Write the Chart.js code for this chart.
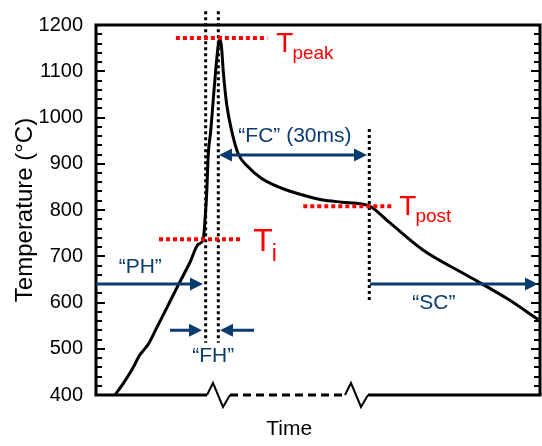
<!DOCTYPE html>
<html><head><meta charset="utf-8">
<script src="https://cdn.jsdelivr.net/npm/chart.js@4.4.1/dist/chart.umd.min.js"></script>
<style>html,body{margin:0;padding:0;background:#fff}canvas{display:block}</style>
</head><body>
<canvas id="c" width="542" height="446"></canvas>
<script>
// ---- data (time in arbitrary units along a broken axis, temperature in °C)
const timeValues = [4.28, 6.15, 8.40, 9.75, 10.65, 11.78, 13.29, 15.92, 18.54, 21.17,
  23.04, 24.17, 24.55, 24.93, 25.29, 25.83, 26.42, 27.03, 27.55, 27.77,
  28.04, 28.31, 28.67, 29.44, 30.56, 32.05, 34.30, 37.32, 41.82, 46.33,
  50.83, 55.34, 59.84, 61.71, 66.22, 73.72, 83.49, 92.50, 99.62];
const temperatures = [400, 425, 460, 485, 496, 510, 538, 588, 638, 687,
  726, 737, 779, 836, 921, 970, 1040, 1110, 1158, 1170,
  1166, 1148, 1099, 1028, 971, 921, 893, 868, 847, 833,
  822, 817, 813, 808, 772, 713, 659, 609, 563];
const temperatureTicks = [400, 500, 600, 700, 800, 900, 1000, 1100, 1200];
const minorTickStep = 20;

// stage boundaries (time) and the temperature span of each dotted marker
const markerTimes = [24.7, 27.55, 61.55];
const markerTop = [1230, 1230, 975];
const markerBottom = [513, 513, 599];

// characteristic temperatures
const levelNames = ['peak', 'i', 'post'];
const levelTemps = [1172, 737, 808];
const levelStart = [18.0, 14.19, 46.69];
const levelEnd = [38.58, 33.04, 66.96];

// stage arrows
const arrowFrom = [0, 16.67, 35.59, 27.7, 61.71];
const arrowTo = [24.1, 23.87, 27.93, 61.04, 99.55];
const arrowTemp = [640, 540, 540, 919, 640];
const arrowBoth = [false, false, false, true, false];

// stage labels
const stageLabels = ['“PH”', '“FH”', '“FC” (30ms)', '“SC”'];
const stageLabelTime = [9.97, 26.4, 44.8, 76.1];
const stageLabelTemp = [676, 483, 960, 598];

// axis break positions (time)
const breakTimes = [25.0, 56.08];

// ---- styles
const ink = '#000000', navy = '#0b3b6f', red = '#ff0000';
const FONT = "'Liberation Sans', Arial, sans-serif";
const levelStyle = [
  {gap: 9, base: 14.5, big: 28, small: 19, subDy: 7},
  {gap: 10.5, base: 11.6, big: 32, small: 23, subDy: 10},
  {gap: 6, base: 8.4, big: 28, small: 19, subDy: 7.5}
];

const overlay = {
  id: 'overlay',
  afterDatasetsDraw(chart) {
    const {ctx, chartArea: a, scales: {x, y}} = chart;
    const X = v => x.getPixelForValue(v), Y = v => y.getPixelForValue(v);
    ctx.save();
    ctx.strokeStyle = ink; ctx.lineWidth = 3; ctx.setLineDash([]);
    ctx.beginPath();
    ctx.moveTo(a.left, a.bottom); ctx.lineTo(a.left, a.top);
    ctx.lineTo(a.right, a.top); ctx.lineTo(a.right, a.bottom);
    ctx.stroke();
    ctx.lineWidth = 2;
    const lo = temperatureTicks[0], hi = temperatureTicks[temperatureTicks.length - 1];
    for (let v = lo; v <= hi; v += minorTickStep) {
      const major = temperatureTicks.includes(v);
      const len = major ? 9 : 6;
      const py = Math.round(Y(v));
      ctx.beginPath();
      ctx.moveTo(a.left, py); ctx.lineTo(a.left + len, py);
      ctx.moveTo(a.right, py); ctx.lineTo(a.right - len, py);
      ctx.stroke();
    }
    const b0 = X(breakTimes[0]), b1 = X(breakTimes[1]);
    const zz = [[0, 0], [6, -12], [16, 12], [23, 0]];
    ctx.lineWidth = 3;
    ctx.beginPath(); ctx.moveTo(a.left - 1.5, a.bottom); ctx.lineTo(b0, a.bottom); ctx.stroke();
    ctx.setLineDash([8, 5]);
    ctx.beginPath(); ctx.moveTo(b0 + 23, a.bottom); ctx.lineTo(b1, a.bottom); ctx.stroke();
    ctx.setLineDash([]);
    ctx.beginPath(); ctx.moveTo(b1 + 23, a.bottom); ctx.lineTo(a.right + 1.5, a.bottom); ctx.stroke();
    ctx.lineWidth = 2;
    [b0, b1].forEach(bx => {
      ctx.beginPath();
      zz.forEach((p, i) => i ? ctx.lineTo(bx + p[0], a.bottom + p[1]) : ctx.moveTo(bx + p[0], a.bottom + p[1]));
      ctx.stroke();
    });
    ctx.strokeStyle = ink; ctx.lineWidth = 3; ctx.setLineDash([3, 3]);
    markerTimes.forEach((t, i) => {
      ctx.beginPath(); ctx.moveTo(X(t), Y(markerTop[i])); ctx.lineTo(X(t), Y(markerBottom[i])); ctx.stroke();
    });
    ctx.strokeStyle = red; ctx.lineWidth = 4; ctx.setLineDash([4, 3]);
    levelTemps.forEach((T, i) => {
      ctx.beginPath(); ctx.moveTo(X(levelStart[i]), Y(T)); ctx.lineTo(X(levelEnd[i]), Y(T)); ctx.stroke();
    });
    ctx.setLineDash([]);
    ctx.fillStyle = red; ctx.textAlign = 'left'; ctx.textBaseline = 'alphabetic';
    levelNames.forEach((n, i) => {
      const s = levelStyle[i];
      const tx = X(levelEnd[i]) + s.gap, ty = Y(levelTemps[i]) + s.base;
      ctx.font = s.big + 'px ' + FONT;
      ctx.fillText('T', tx, ty);
      const w = ctx.measureText('T').width;
      ctx.font = s.small + 'px ' + FONT;
      ctx.fillText(n, tx + w - 1, ty + s.subDy);
    });
    ctx.strokeStyle = navy; ctx.fillStyle = navy; ctx.lineWidth = 3;
    const head = (px, py, dir) => {
      ctx.beginPath();
      ctx.moveTo(px, py); ctx.lineTo(px - dir * 13, py - 6.5); ctx.lineTo(px - dir * 13, py + 6.5);
      ctx.closePath(); ctx.fill();
    };
    arrowFrom.forEach((f, i) => {
      const x0 = X(f), x1 = X(arrowTo[i]), py = Y(arrowTemp[i]);
      const dir = x1 > x0 ? 1 : -1;
      ctx.beginPath();
      ctx.moveTo(arrowBoth[i] ? x0 + dir * 10 : x0, py); ctx.lineTo(x1 - dir * 10, py); ctx.stroke();
      head(x1, py, dir);
      if (arrowBoth[i]) head(x0, py, -dir);
    });
    ctx.font = '21px ' + FONT; ctx.textAlign = 'center'; ctx.textBaseline = 'middle';
    stageLabels.forEach((s, i) => ctx.fillText(s, X(stageLabelTime[i]), Y(stageLabelTemp[i])));
    ctx.fillStyle = ink; ctx.font = '21px ' + FONT;
    ctx.fillText('Time', X(43.5), a.bottom + 34);
    ctx.restore();
  }
};

new Chart(document.getElementById('c'), {
  type: 'line',
  data: {
    datasets: [{
      data: timeValues.map((t, i) => ({x: t, y: temperatures[i]})),
      borderColor: ink, borderWidth: 3, pointRadius: 0, fill: false,
      cubicInterpolationMode: 'monotone'
    }]
  },
  options: {
    responsive: false, animation: false, devicePixelRatio: 1,
    layout: {padding: {top: 19, right: 2, bottom: 51, left: 0}},
    plugins: {legend: {display: false}, tooltip: {enabled: false}},
    scales: {
      x: {type: 'linear', min: 0, max: 100, display: false},
      y: {
        min: temperatureTicks[0], max: temperatureTicks[temperatureTicks.length - 1],
        afterBuildTicks(s) { s.ticks = temperatureTicks.map(v => ({value: v})); },
        ticks: {color: ink, font: {family: FONT, size: 20}, padding: 13, callback: v => String(v)},
        grid: {display: false, drawTicks: false},
        border: {display: false},
        title: {display: true, text: 'Temperature (°C)', color: ink, font: {family: FONT, size: 24}, padding: {top: 11, bottom: 0}},
        afterFit(s) { s.width = 96; }
      }
    }
  },
  plugins: [overlay]
});
</script>
</body></html>
